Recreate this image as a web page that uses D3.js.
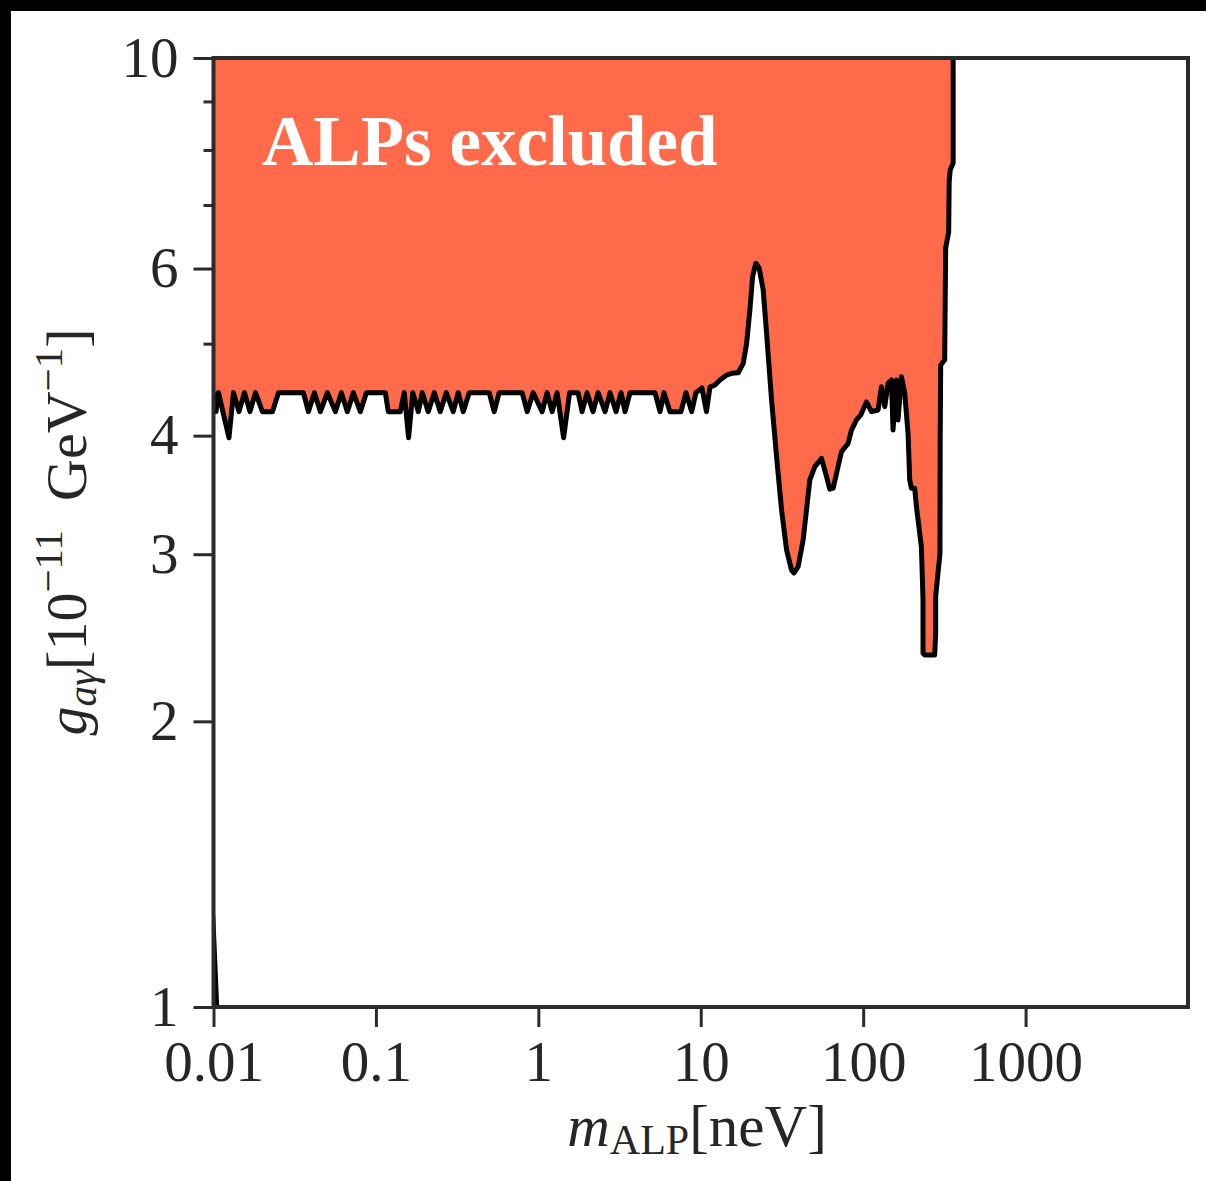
<!DOCTYPE html>
<html>
<head>
<meta charset="utf-8">
<script src="https://cdn.jsdelivr.net/npm/d3@7"></script>
<style>
  body { margin: 0; background: #fff; }
  text { font-family: "Liberation Serif", "Times New Roman", serif; }
</style>
</head>
<body>
<div id="chart"></div>
<script>
// axis ticks
const xTickValues = [0.01, 0.1, 1, 10, 100, 1000];
const xTickLabels = ["0.01", "0.1", "1", "10", "100", "1000"];
const yMajorTicks = [1, 2, 3, 4, 6, 10];
const yMinorTicks = [5, 7, 8, 9];

// exclusion limit: ALP mass [neV] and coupling [1e-11 GeV^-1]
const massNeV = [
  0.01007, 0.01036, 0.01073, 0.01245, 0.01327, 0.01435, 0.01551, 0.01677, 0.01813, 0.02001,
  0.02306, 0.02511, 0.03577, 0.03839, 0.04181, 0.04551, 0.05025, 0.05628, 0.06128, 0.06672,
  0.07261, 0.08018, 0.0873, 0.1143, 0.1192, 0.1413, 0.1495, 0.1589, 0.1686, 0.1823,
  0.1929, 0.21, 0.2287, 0.2489, 0.271, 0.2992, 0.3212, 0.3447, 0.3753, 0.4982,
  0.5348, 0.5741, 0.7951, 0.8536, 0.9291, 1.055, 1.133, 1.216, 1.305, 1.431,
  1.558, 1.757, 1.86, 1.996, 2.173, 2.333, 2.576, 2.764, 3.01, 3.23,
  3.419, 3.669, 5.228, 5.613, 5.94, 6.466, 7.553, 8.11, 8.79, 9.344,
  10.17, 10.84, 11.39, 12.23, 13.13, 14.43, 15.49, 17.01, 18.26, 19.16,
  20.07, 20.85, 21.85, 22.9, 24.23, 25.43, 27.29, 29.3, 31.45, 33.76,
  36.23, 37.43, 39.78, 42.7, 46.95, 50.4, 55.4, 59.47, 62.32, 65.3,
  70.08, 73.54, 80.73, 84.73, 90.95, 96.65, 104.8, 112.5, 123.5, 129.6,
  135.8, 142.3, 149.3, 152.7, 160.3, 163.9, 172.0, 180.3, 188.9, 193.5,
  198.2, 207.7, 212.8, 228.3, 233.6, 233.6, 239.2, 275.6, 279.5, 279.5,
  288.8, 297.1, 298.0, 300.1, 317.6, 322.1, 336.1, 338.5, 343.4, 358.2,
  358.2
];
const gLimit = [
  4.44, 4.24, 4.44, 3.98, 4.44, 4.24, 4.44, 4.24, 4.44, 4.24,
  4.24, 4.44, 4.44, 4.24, 4.44, 4.24, 4.44, 4.24, 4.44, 4.24,
  4.44, 4.24, 4.44, 4.44, 4.24, 4.24, 4.44, 3.98, 4.44, 4.24,
  4.44, 4.24, 4.44, 4.24, 4.44, 4.24, 4.44, 4.24, 4.44, 4.44,
  4.24, 4.44, 4.44, 4.24, 4.44, 4.24, 4.44, 4.24, 4.44, 3.98,
  4.44, 4.44, 4.24, 4.44, 4.24, 4.44, 4.24, 4.44, 4.24, 4.44,
  4.24, 4.44, 4.44, 4.24, 4.44, 4.24, 4.24, 4.44, 4.24, 4.44,
  4.49, 4.24, 4.50, 4.523, 4.578, 4.634, 4.653, 4.66, 4.767, 5.004,
  5.427, 5.884, 6.078, 6.005, 5.697, 5.127, 4.362, 3.801, 3.34, 3.031,
  2.887, 2.866, 2.911, 3.106, 3.593, 3.711, 3.786, 3.622, 3.513, 3.521,
  3.711, 3.847, 3.926, 4.055, 4.155, 4.206, 4.341, 4.24, 4.257, 4.504,
  4.292, 4.542, 4.578, 4.055, 4.578, 4.155, 4.615, 4.433, 4.023, 3.593,
  3.521, 3.521, 3.367, 3.055, 2.686, 2.359, 2.349, 2.349, 2.478, 2.707,
  2.865, 3.007, 3.958, 4.748, 4.806, 6.307, 6.557, 7.402, 7.621, 7.752,
  10
];

// small sliver at the lower left corner
const cornerMass = [0.01, 0.01, 0.01058];
const cornerG = [1.0, 1.25, 1.0];

const width = 1206, height = 1181;
const margin = { top: 58, right: 18, bottom: 174, left: 213.5 };
const axisColor = "#2b2b2b";
const fillColor = "#ff6a4b";

const limit = massNeV.map((m, i) => ({ m: m, g: gLimit[i] }));
const corner = cornerMass.map((m, i) => ({ m: m, g: cornerG[i] }));

const svg = d3.select("#chart")
  .append("svg")
  .attr("width", width)
  .attr("height", height);

// black strips on the top and left edges of the picture
svg.append("rect").attr("width", width).attr("height", height).attr("fill", "#000");
svg.append("rect").attr("x", 11).attr("y", 11)
  .attr("width", width - 11).attr("height", height - 11).attr("fill", "#fff");

const x = d3.scaleLog()
  .domain([0.01, 10000])
  .range([margin.left, width - margin.right]);

const y = d3.scaleLog()
  .domain([1, 10])
  .range([height - margin.bottom, margin.top]);

svg.append("clipPath").attr("id", "plot-clip")
  .append("rect")
  .attr("x", margin.left).attr("y", margin.top)
  .attr("width", width - margin.right - margin.left)
  .attr("height", height - margin.bottom - margin.top);

const plot = svg.append("g").attr("clip-path", "url(#plot-clip)");

const area = d3.area()
  .x(d => x(d.m))
  .y0(y(10))
  .y1(d => y(d.g));

const line = d3.line()
  .x(d => x(d.m))
  .y(d => y(d.g));

plot.append("path")
  .datum(limit)
  .attr("d", area)
  .attr("fill", fillColor);

plot.append("path")
  .datum(limit)
  .attr("d", line)
  .attr("fill", "none")
  .attr("stroke", "#000")
  .attr("stroke-width", 5)
  .attr("stroke-linejoin", "round");

plot.append("path")
  .datum(corner)
  .attr("d", line)
  .attr("fill", "#000")
  .attr("stroke", "#000")
  .attr("stroke-width", 3.5);

// "ALPs excluded"
svg.append("text")
  .attr("x", 262)
  .attr("y", 165)
  .attr("fill", "#fff")
  .attr("font-weight", "bold")
  .attr("font-size", 71)
  .text("ALPs excluded");

// axes
const xAxis = svg.append("g")
  .attr("transform", `translate(0, ${height - margin.bottom})`)
  .call(d3.axisBottom(x)
    .tickValues(xTickValues)
    .tickFormat((d, i) => xTickLabels[i])
    .tickSize(20)
    .tickPadding(14));

const yAxis = svg.append("g")
  .attr("transform", `translate(${margin.left}, 0)`)
  .call(d3.axisLeft(y)
    .tickValues(yMajorTicks)
    .tickFormat(d3.format("d"))
    .tickSize(20)
    .tickPadding(15));

const yMinor = svg.append("g")
  .attr("transform", `translate(${margin.left}, 0)`)
  .call(d3.axisLeft(y)
    .tickValues(yMinorTicks)
    .tickFormat("")
    .tickSize(10));

[xAxis, yAxis, yMinor].forEach(g => {
  g.select(".domain").remove();
  g.selectAll("line").attr("stroke", axisColor).attr("stroke-width", 3);
  g.selectAll("text")
    .attr("fill", "#262626")
    .attr("font-size", 57)
    .attr("font-family", "Liberation Serif, serif");
});

// frame
svg.append("rect")
  .attr("x", margin.left)
  .attr("y", margin.top)
  .attr("width", width - margin.right - margin.left)
  .attr("height", height - margin.bottom - margin.top)
  .attr("fill", "none")
  .attr("stroke", axisColor)
  .attr("stroke-width", 4);

// x label
const xLabel = svg.append("text")
  .attr("x", 697)
  .attr("y", 1146)
  .attr("text-anchor", "middle")
  .attr("fill", "#262626")
  .attr("font-size", 59);
xLabel.append("tspan").attr("font-style", "italic").text("m");
xLabel.append("tspan").attr("font-size", 42).attr("dy", 8).text("ALP");
xLabel.append("tspan").attr("dy", -8).text("[neV]");

// y label
const yLabel = svg.append("text")
  .attr("transform", "translate(86, 532) rotate(-90)")
  .attr("text-anchor", "middle")
  .attr("fill", "#262626")
  .attr("font-size", 58);
yLabel.append("tspan").attr("font-style", "italic").text("g");
yLabel.append("tspan").attr("font-style", "italic").attr("font-size", 41).attr("dy", 10).text("aγ");
yLabel.append("tspan").attr("dy", -10).text("[10");
yLabel.append("tspan").attr("font-size", 41).attr("dy", -24).text("−11");
yLabel.append("tspan").attr("dy", 24).text("\u2002GeV");
yLabel.append("tspan").attr("font-size", 41).attr("dy", -24).text("−1");
yLabel.append("tspan").attr("dy", 24).text("]");
</script>
</body>
</html>
